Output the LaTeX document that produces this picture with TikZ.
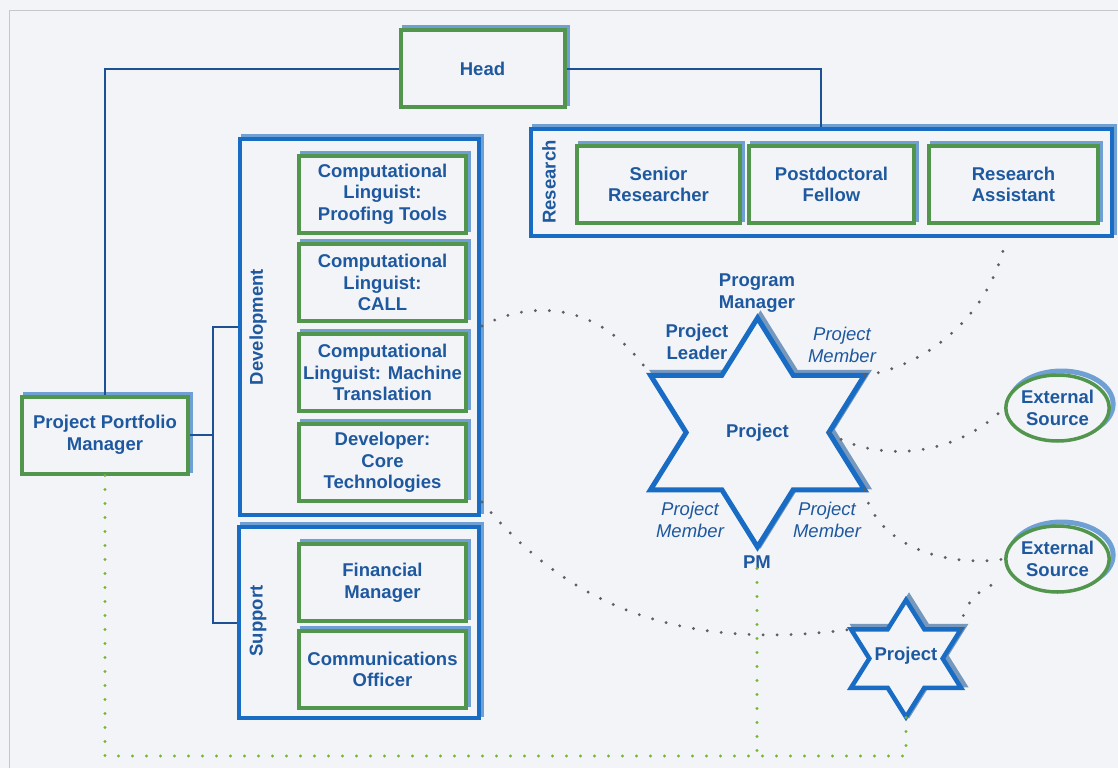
\documentclass[tikz,border=0pt]{standalone}
\usepackage{fontspec}
\setmainfont{Liberation Sans}
\usetikzlibrary{shapes.geometric,calc}
\definecolor{bg}{RGB}{243,244,248}
\definecolor{gbox}{RGB}{82,150,78}
\definecolor{bbox}{RGB}{24,108,196}
\definecolor{shad}{RGB}{110,160,212}
\definecolor{sshad}{RGB}{118,152,188}
\definecolor{txt}{RGB}{30,88,158}
\definecolor{conn}{RGB}{30,80,150}
\definecolor{gdot}{RGB}{120,180,50}
\definecolor{ddot}{RGB}{95,95,95}
\begin{document}
\begin{tikzpicture}[x=1pt,y=-1pt,
  lbl/.style={font=\fontsize{18.5}{21.5}\selectfont\bfseries, text=txt, align=center, inner sep=0pt},
  mem/.style={lbl, font=\fontsize{18.5}{21.5}\selectfont\itshape},
  role/.style={lbl, draw=gbox, line width=4pt, fill=bg,
    preaction={draw=shad, line width=4pt, transform canvas={shift={(3pt,3pt)}}},
    minimum height=77pt},
  grp/.style={draw=bbox, line width=4pt, fill=bg,
    preaction={draw=shad, line width=4pt, transform canvas={shift={(3pt,3pt)}}}},
  ext/.style={lbl, ellipse, draw=gbox, line width=3.5pt, fill=bg,
    preaction={draw=shad, line width=5pt, transform canvas={shift={(4pt,4pt)}}},
    minimum width=101pt, minimum height=66pt},
  starline/.style={draw=bbox, line width=5pt, fill=bg,
    preaction={draw=sshad, line width=5pt, transform canvas={shift={(3pt,3pt)}}}},
  conn/.style={draw=conn, line width=2pt},
  gdots/.style={draw=ddot, line width=3.2pt, dash pattern=on 0pt off 14pt, line cap=round},
  grdots/.style={draw=gdot, line width=3.2pt, dash pattern=on 0pt off 14pt, line cap=round}
]
% background and frame
\fill[bg] (0,0) rectangle (1118,768);
\useasboundingbox (0,0) rectangle (1118,768);
\draw[black!22, line width=0.8pt] (9,768) -- (9,10) -- (1118,10);

% coordinates for bus lines
\coordinate (trunk) at (213,0);
\coordinate (bot) at (0,756);

% groups
\node[grp, minimum width=581pt, minimum height=107pt] (research) at (821,182.5) {};
\node[grp, minimum width=239pt, minimum height=376pt] (dev) at (359.5,327) {};
\node[grp, minimum width=240pt, minimum height=191pt] (sup) at (359,622.5) {};
\node[lbl, rotate=90] (rlab) at (549,182) {Research};
\node[lbl, rotate=90] (dlab) at (258,327) {Development};
\node[lbl, rotate=90] (slab) at (258,621) {Support};

% role boxes
\node[role, minimum width=164pt] (head) at (482.5,68.5) {Head};
\node[role, minimum width=166pt] (ppm) at (105,435) {Project Portfolio\\Manager};
\node[role, minimum width=163pt] (sr) at (658.5,184.5) {Senior\\Researcher};
\node[role, minimum width=165pt] (pf) at (831.5,184.5) {Postdoctoral\\Fellow};
\node[role, minimum width=169pt] (ra) at (1013.5,184.5) {Research\\Assistant};
\node[role, minimum width=167pt] (cl1) at (382.5,194) {Computational\\Linguist:\\Proofing Tools};
\node[role, minimum width=167pt] (cl2) at (382.5,282.5) {Computational\\Linguist:\\CALL};
\node[role, minimum width=167pt] (cl3) at (382.5,372.5) {Computational\\Linguist: Machine\\Translation};
\node[role, minimum width=167pt] (dct) at (382.5,462.5) {Developer:\\Core\\Technologies};
\node[role, minimum width=167pt] (fm) at (382.5,582.5) {Financial\\Manager};
\node[role, minimum width=167pt] (co) at (382.5,669.5) {Communications\\Officer};

% solid connectors
\draw[conn] (head.west) -| (ppm.north);
\draw[conn] (head.east) -| (research.north);
\draw[conn] (ppm.east) -- (ppm.east -| trunk);
\draw[conn] (dev.west) -- (dev.west -| trunk) -- (sup.west -| trunk) -- (sup.west);

% big star
\begin{scope}[shift={(757.5,432.5)}, xscale=107, yscale=114.5]
  \coordinate (bs-t) at (0,-1);
  \coordinate (bs-i1) at (0.3333,-0.5);
  \coordinate (bs-ur) at (1,-0.5);
  \coordinate (bs-ir) at (0.6667,0);
  \coordinate (bs-lr) at (1,0.5);
  \coordinate (bs-i2) at (0.3333,0.5);
  \coordinate (bs-b) at (0,1);
  \coordinate (bs-i3) at (-0.3333,0.5);
  \coordinate (bs-ll) at (-1,0.5);
  \coordinate (bs-il) at (-0.6667,0);
  \coordinate (bs-ul) at (-1,-0.5);
  \coordinate (bs-i4) at (-0.3333,-0.5);
\end{scope}
\path[starline] (bs-t) -- (bs-i1) -- (bs-ur) -- (bs-ir) -- (bs-lr) -- (bs-i2) -- (bs-b)
  -- (bs-i3) -- (bs-ll) -- (bs-il) -- (bs-ul) -- (bs-i4) -- cycle;
\node[lbl] (proj) at (757.5,433) {Project};

% small star
\begin{scope}[shift={(906,658.5)}, xscale=55, yscale=58.5]
  \coordinate (ss-t) at (0,-1);
  \coordinate (ss-i1) at (0.3333,-0.5);
  \coordinate (ss-ur) at (1,-0.5);
  \coordinate (ss-ir) at (0.6667,0);
  \coordinate (ss-lr) at (1,0.5);
  \coordinate (ss-i2) at (0.3333,0.5);
  \coordinate (ss-b) at (0,1);
  \coordinate (ss-i3) at (-0.3333,0.5);
  \coordinate (ss-ll) at (-1,0.5);
  \coordinate (ss-il) at (-0.6667,0);
  \coordinate (ss-ul) at (-1,-0.5);
  \coordinate (ss-i4) at (-0.3333,-0.5);
\end{scope}
\path[starline, line width=4.5pt] (ss-t) -- (ss-i1) -- (ss-ur) -- (ss-ir) -- (ss-lr) -- (ss-i2) -- (ss-b)
  -- (ss-i3) -- (ss-ll) -- (ss-il) -- (ss-ul) -- (ss-i4) -- cycle;
\node[lbl] (sproj) at (906,656) {Project};

% star labels
\node[lbl] (pgm) at (757,293) {Program\\Manager};
\node[lbl] (pl) at (697,342) {Project\\Leader};
\node[mem] (m1) at (842,345) {Project\\Member};
\node[mem] (m2) at (690,520) {Project\\Member};
\node[mem] (m3) at (827,520) {Project\\Member};
\node[lbl] (pm) at (757,562) {PM};

% external sources
\node[ext] (ext1) at (1057.5,408) {External\\Source};
\node[ext] (ext2) at (1057.5,559) {External\\Source};

% dotted gray connectors
\coordinate (d1) at (482,326);
\coordinate (d5) at (482,502);
\coordinate (rsrc) at (1006,238);
\coordinate (e2low) at (1004,581);
\draw[gdots] (d1) .. controls (530,300) and (600,300) .. (bs-ul);
\draw[gdots] (bs-ur) .. controls (920,368) and (990,320) .. (rsrc);
\draw[gdots] (bs-ir) .. controls (870,460) and (950,462) .. (ext1.west);
\draw[gdots] (bs-lr) .. controls (875,545) and (945,568) .. (ext2.west);
\draw[gdots] (d5) .. controls (555,590) and (660,655) .. (ss-ul);
\draw[gdots] (ss-ur) .. controls (962,600) and (985,585) .. (e2low);

% dotted green connectors
\draw[grdots] (ppm.south) -- (ppm.south |- bot) -- (ss-b |- bot) -- (ss-b);
\draw[grdots] (pm.south) -- (pm.south |- bot);
\end{tikzpicture}
\end{document}
